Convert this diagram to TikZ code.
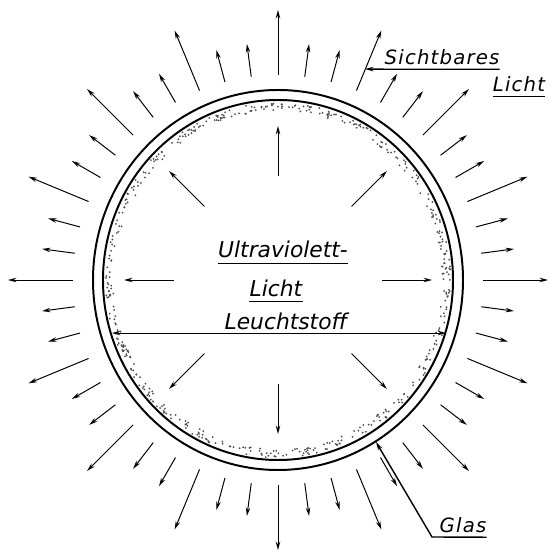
\documentclass[tikz,border=0pt]{standalone}
\usepackage{fontspec}
\newfontfamily\handfont{DejaVu Sans}
\newfontfamily\handfontwide[LetterSpace=6]{DejaVu Sans}
\usetikzlibrary{arrows.meta,calc}

\begin{document}
\begin{tikzpicture}[x=0.025cm,y=0.025cm,
    >={Stealth[length=6pt,width=3.2pt]},
    ray/.style={->,line width=0.7pt},
    glass/.style={line width=1.4pt},
    uline/.style={line width=1pt},
    lbl/.style={inner sep=0pt,font=\handfont\itshape\fontsize{15.5}{18}\selectfont},
    tag/.style={inner sep=0pt,font=\handfontwide\itshape\fontsize{14}{16}\selectfont}]
    \useasboundingbox (0,0) rectangle (551,553);
    \coordinate (C) at (278,273);
    % glass tube
    \draw[glass] (C) ellipse (185 and 190);
    \draw[glass] (C) ellipse (175 and 180);
    % phosphor coating
    \pgfmathsetseed{11}
    \foreach \i in {1,...,480}{
        \pgfmathsetmacro{\a}{360*rnd}
        \pgfmathsetmacro{\d}{2.5+8*rnd}
        \fill[black!70] ($(C)+({(175-\d)*cos(\a)},{(180-\d)*sin(\a)})$) circle (1);
    }
    % visible light
    \foreach \k in {0,...,47}{
        \pgfmathsetmacro{\ang}{7.5*\k}
        \pgfmathsetmacro{\rend}{mod(\k,3)==0 ? 270 : 238}
        \draw[ray] ($(C)+(\ang:205)$) -- ($(C)+(\ang:\rend)$);
    }
    % ultraviolet
    \foreach \ang in {0,45,...,315}
        \draw[ray] ($(C)+(\ang:104)$) -- ($(C)+(\ang:154)$);
    % labels
    \node[lbl,anchor=base] (uv) at (283,295) {Ultraviolett-};
    \node[lbl,anchor=base] (uvl) at (276,256) {Licht};
    \node[lbl,anchor=base] (ls) at (286,223) {Leuchtstoff};
    \node[tag,anchor=base] (sb) at (442,488) {Sichtbares};
    \node[tag,anchor=base] (sl) at (519,461) {Licht};
    \node[tag,anchor=base] (gl) at (463,20) {Glas};
    \draw[uline] ([yshift=-4pt]uv.base west) -- ([yshift=-4pt]uv.base east);
    \draw[uline] ([yshift=-3pt]uvl.base west) -- ([yshift=-3pt]uvl.base east);
    \draw[uline] ([yshift=-3pt]sl.base west) -- ([yshift=-3pt]sl.base east);
    % leaders
    \coordinate (lsl) at (112,220);
    \coordinate (lsr) at (446,220);
    \draw[ray,<->] (lsl) -- (lsr);
    \coordinate (sbtip) at (365,484);
    \draw[uline,->] ([yshift=-3pt]sb.base east) -- ([yshift=-3pt]sb.base west) -- (sbtip);
    \coordinate (glknee) at (432,16);
    \coordinate (gltip) at (376,111);
    \draw[uline,->] ([yshift=-3pt]gl.base east) -- (glknee) -- (gltip);
\end{tikzpicture}
\end{document}
